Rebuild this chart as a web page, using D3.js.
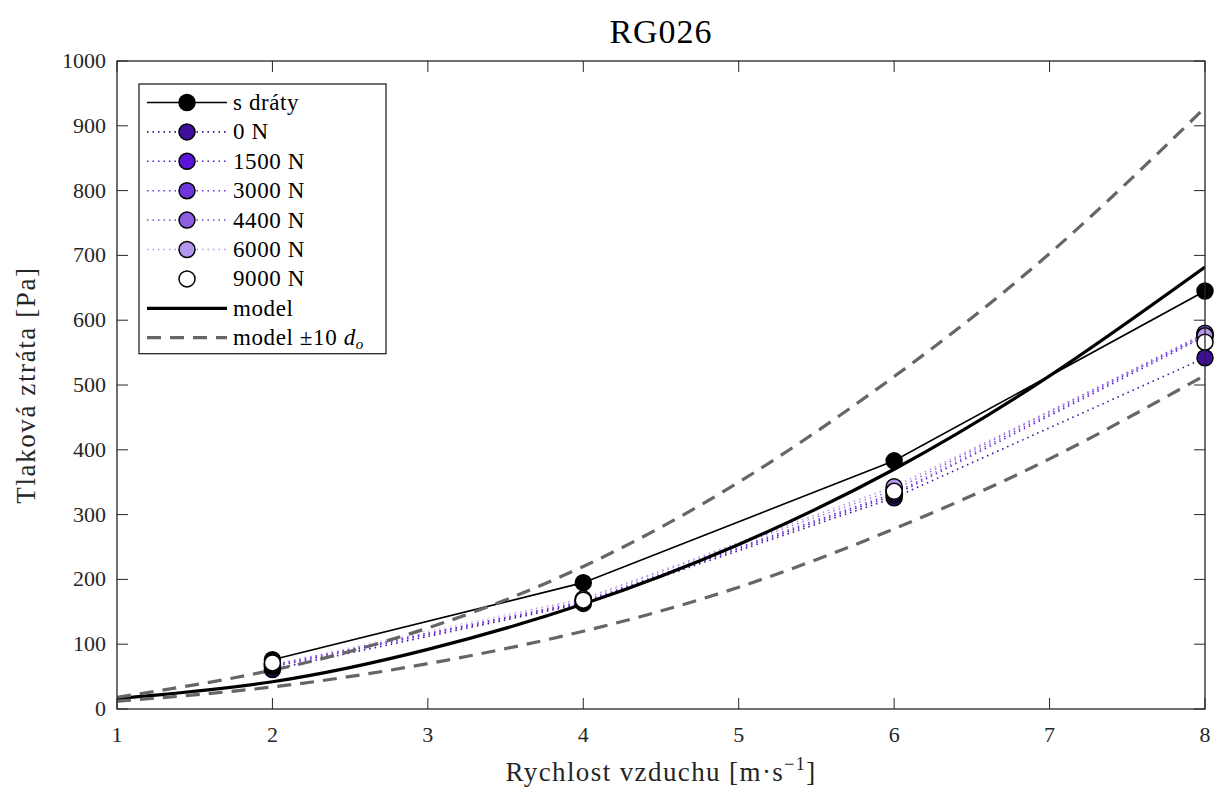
<!DOCTYPE html>
<html><head><meta charset="utf-8">
<script src="https://cdn.jsdelivr.net/npm/d3@7"></script>
<style>body{margin:0;background:#fff}svg{display:block}text{font-family:"Liberation Serif","DejaVu Serif",serif}</style>
</head><body>
<svg id="c" width="1215" height="790"></svg>
<script>
const xMeas = [2, 4, 6, 8];
const sDraty = [76, 195, 383, 645];
const n0 = [61, 163, 326, 542];
const n1500 = [65, 165, 330, 575];
const n3000 = [67, 167, 333, 578];
const n4400 = [68, 169, 338, 580];
const n6000 = [70, 170, 343, 576];
const n9000 = [71, 168, 336, 566];
const xModel = [1, 2, 3, 4, 5, 6, 7, 8];
const model = [16, 42, 92, 162, 254, 370, 514, 682];
const modelHi = [18, 60, 125, 220, 350, 513, 703, 928];
const modelLo = [12, 34, 70, 120, 188, 278, 386, 515];
const xTicks = [1, 2, 3, 4, 5, 6, 7, 8];
const yTicks = [0, 100, 200, 300, 400, 500, 600, 700, 800, 900, 1000];

const svg = d3.select("#c");
const L = 117, R = 1205, T = 61, B = 709;
const x = d3.scaleLinear().domain([1, 8]).range([L, R]);
const y = d3.scaleLinear().domain([0, 1000]).range([B, T]);
const axisCol = "#262626";

const series = [
  {name: "s dráty", vals: sDraty, line: "#000", fill: "#000", dash: null, w: 1.6},
  {name: "0 N", vals: n0, line: "#3f0f9a", fill: "#3f0f9a", dash: "1.5,4", w: 1.6},
  {name: "1500 N", vals: n1500, line: "#5b14d8", fill: "#5b14d8", dash: "1.5,4", w: 1.6},
  {name: "3000 N", vals: n3000, line: "#6d35dc", fill: "#6d35dc", dash: "1.5,4", w: 1.6},
  {name: "4400 N", vals: n4400, line: "#8b5fe2", fill: "#8b5fe2", dash: "1.5,4", w: 1.6},
  {name: "6000 N", vals: n6000, line: "#b597ef", fill: "#b597ef", dash: "1.5,4", w: 1.6},
  {name: "9000 N", vals: n9000, line: "#ffffff", fill: "#ffffff", dash: "1.5,4", w: 1.6}
];

svg.append("clipPath").attr("id", "pc").append("rect")
  .attr("x", L).attr("y", T).attr("width", R - L).attr("height", B - T);

// ticks (inside)
const g = svg.append("g");
const tl = 11;
xTicks.forEach(t => {
  g.append("line").attr("x1", x(t)).attr("x2", x(t)).attr("y1", B).attr("y2", B - tl).attr("stroke", axisCol);
  g.append("line").attr("x1", x(t)).attr("x2", x(t)).attr("y1", T).attr("y2", T + tl).attr("stroke", axisCol);
});
yTicks.forEach(t => {
  g.append("line").attr("x1", L).attr("x2", L + tl).attr("y1", y(t)).attr("y2", y(t)).attr("stroke", axisCol);
  g.append("line").attr("x1", R).attr("x2", R - tl).attr("y1", y(t)).attr("y2", y(t)).attr("stroke", axisCol);
});

const plot = svg.append("g").attr("clip-path", "url(#pc)");
const lineM = d3.line().x((d, i) => x(xMeas[i])).y(d => y(d));
series.forEach(s => {
  plot.append("path").attr("d", lineM(s.vals)).attr("fill", "none")
    .attr("stroke", s.line).attr("stroke-width", s.w)
    .attr("stroke-dasharray", s.dash);
});
const mg = svg.append("g");
series.forEach(s => {
  s.vals.forEach((v, i) => {
    mg.append("circle").attr("cx", x(xMeas[i])).attr("cy", y(v)).attr("r", 8)
      .attr("fill", s.fill).attr("stroke", "#000").attr("stroke-width", 1.5);
  });
});
const lineC = d3.line().x((d, i) => x(xModel[i])).y(d => y(d)).curve(d3.curveNatural);
plot.append("path").attr("d", lineC(model)).attr("fill", "none").attr("stroke", "#000").attr("stroke-width", 3.2);
[modelHi, modelLo].forEach(arr => {
  plot.append("path").attr("d", lineC(arr)).attr("fill", "none").attr("stroke", "#666")
    .attr("stroke-width", 3.2).attr("stroke-dasharray", "14,9");
});

// box
svg.append("rect").attr("x", L).attr("y", T).attr("width", R - L).attr("height", B - T)
  .attr("fill", "none").attr("stroke", axisCol).attr("stroke-width", 1.3);

// tick labels
xTicks.forEach(t => {
  svg.append("text").attr("x", x(t)).attr("y", 742).attr("text-anchor", "middle")
    .attr("font-size", 22).attr("fill", axisCol).text(t);
});
yTicks.forEach(t => {
  svg.append("text").attr("x", 106).attr("y", y(t) + 7).attr("text-anchor", "end")
    .attr("font-size", 22).attr("fill", axisCol).text(t);
});

// titles
svg.append("text").attr("x", 661).attr("y", 43).attr("text-anchor", "middle").attr("font-size", 34)
  .attr("letter-spacing", 1).attr("fill", "#000").text("RG026");
const xl = svg.append("text").attr("x", 661).attr("y", 781).attr("text-anchor", "middle").attr("font-size", 27)
  .attr("letter-spacing", 1.4).attr("fill", axisCol);
xl.append("tspan").text("Rychlost vzduchu [m·s");
xl.append("tspan").attr("dy", -11).attr("font-size", 18).text("−1");
xl.append("tspan").attr("dy", 11).text("]");
svg.append("text").attr("transform", "translate(35,385) rotate(-90)").attr("text-anchor", "middle")
  .attr("font-size", 27).attr("letter-spacing", 1.6).attr("fill", axisCol).text("Tlaková ztráta [Pa]");

// legend
const lx = 139, ly = 84, rowH = 29.4, firstY = 102.5;
const entries = series.map(s => ({type: "data", s}))
  .concat([{type: "model"}, {type: "band"}]);
const lh = firstY - ly + rowH * (entries.length - 1) + 16;
svg.append("rect").attr("x", lx).attr("y", ly).attr("width", 247).attr("height", lh)
  .attr("fill", "#fff").attr("stroke", axisCol).attr("stroke-width", 1.3);
const fs = 23;
entries.forEach((e, i) => {
  const cy = firstY + i * rowH;
  if (e.type === "data") {
    svg.append("line").attr("x1", 147).attr("x2", 227).attr("y1", cy).attr("y2", cy)
      .attr("stroke", e.s.line).attr("stroke-width", e.s.w).attr("stroke-dasharray", e.s.dash);
    svg.append("circle").attr("cx", 187).attr("cy", cy).attr("r", 8)
      .attr("fill", e.s.fill).attr("stroke", "#000").attr("stroke-width", 1.5);
    svg.append("text").attr("x", 233).attr("y", cy + 7.5).attr("font-size", fs).attr("letter-spacing", 0.6).attr("fill", "#000").text(e.s.name);
  } else if (e.type === "model") {
    svg.append("line").attr("x1", 147).attr("x2", 227).attr("y1", cy).attr("y2", cy)
      .attr("stroke", "#000").attr("stroke-width", 3.2);
    svg.append("text").attr("x", 233).attr("y", cy + 7.5).attr("font-size", fs).attr("letter-spacing", 0.6).attr("fill", "#000").text("model");
  } else {
    svg.append("line").attr("x1", 147).attr("x2", 227).attr("y1", cy).attr("y2", cy)
      .attr("stroke", "#666").attr("stroke-width", 3.2).attr("stroke-dasharray", "14,9");
    const t = svg.append("text").attr("x", 233).attr("y", cy + 7.5).attr("font-size", fs).attr("letter-spacing", 0.6).attr("fill", "#000");
    t.append("tspan").text("model ±10 ");
    t.append("tspan").attr("font-style", "italic").text("d");
    t.append("tspan").attr("font-style", "italic").attr("font-size", 15).attr("dy", 4).text("o");
  }
});
</script>
</body></html>
